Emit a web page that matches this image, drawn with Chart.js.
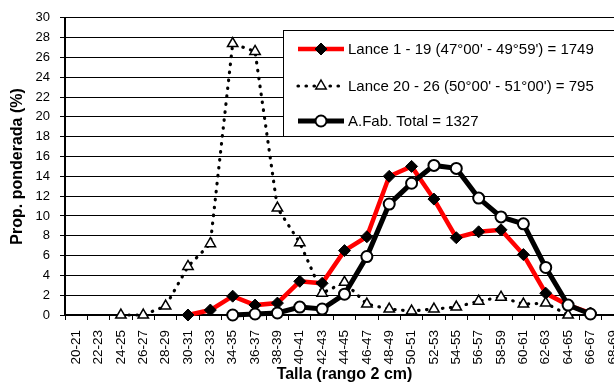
<!DOCTYPE html>
<html>
<head>
<meta charset="utf-8">
<script src="https://cdn.jsdelivr.net/npm/chart.js@4/dist/chart.umd.min.js"></script>
<style>
html,body{margin:0;padding:0;background:#fff;overflow:hidden;}
#clip{width:614px;height:384px;overflow:hidden;position:relative;}
#wrap{width:640px;height:384px;position:absolute;left:0;top:0;}
</style>
</head>
<body>
<div id="clip"><div id="wrap"><canvas id="c"></canvas></div></div>
<script>
const categories = ['20-21','22-23','24-25','26-27','28-29','30-31','32-33','34-35','36-37','38-39','40-41','42-43','44-45','46-47','48-49','50-51','52-53','54-55','56-57','58-59','60-61','62-63','64-65','66-67','68-69'];
const lance1_19 = [null,null,null,null,null,0,0.5,1.9,1.0,1.2,3.4,3.2,6.5,7.9,14.0,15.0,11.7,7.8,8.4,8.6,6.1,2.2,1.0,0.2,null];
const lance20_26 = [null,null,0,0,0.9,4.9,7.2,27.4,26.6,10.8,7.3,2.2,3.3,1.1,0.6,0.4,0.6,0.8,1.4,1.8,1.1,1.2,0,null,null];
const afabTotal = [null,null,null,null,null,null,null,0,0.1,0.2,0.8,0.6,2.1,5.9,11.2,13.3,15.1,14.8,11.8,9.9,9.2,4.8,1.0,0.1,null];
const seriesNames = ["Lance 1 - 19 (47°00' - 49°59') = 1749", "Lance 20 - 26 (50°00' - 51°00') = 795", "A.Fab. Total = 1327"];
const yTicks = [0,2,4,6,8,10,12,14,16,18,20,22,24,26,28,30];

const FONT = "'Liberation Sans', Arial, sans-serif";

function drawMarker(ctx, style, x, y, r, fill, stroke, bw){
  ctx.save();
  ctx.beginPath();
  if(style==='rectRot'){
    ctx.moveTo(x, y-r); ctx.lineTo(x+r, y); ctx.lineTo(x, y+r); ctx.lineTo(x-r, y); ctx.closePath();
  } else if(style==='triangle'){
    ctx.moveTo(x, y-r); ctx.lineTo(x+r*0.866, y+r*0.5); ctx.lineTo(x-r*0.866, y+r*0.5); ctx.closePath();
  } else {
    ctx.arc(x, y, r, 0, Math.PI*2);
  }
  ctx.fillStyle = fill; ctx.fill();
  ctx.lineWidth = bw; ctx.strokeStyle = stroke; ctx.stroke();
  ctx.restore();
}

const legendBox = {
  id: 'legendBox',
  afterDatasetsDraw(chart){
    const ctx = chart.ctx;
    const left = 283, top = 30, w = 360, h = 106;
    ctx.save();
    ctx.fillStyle = '#fff';
    ctx.fillRect(left, top, w, h);
    ctx.lineWidth = 1; ctx.strokeStyle = '#000';
    ctx.strokeRect(left+0.5, top+0.5, w, h);
    const rows = [49, 86, 121];
    [0,1,2].forEach((i, k) => {
      const ds = chart.data.datasets[i];
      const y = rows[k];
      ctx.save();
      ctx.beginPath();
      ctx.moveTo(298, y); ctx.lineTo(344, y);
      ctx.lineWidth = ds.borderWidth;
      ctx.strokeStyle = ds.borderColor;
      ctx.lineCap = ds.borderCapStyle || 'butt';
      if(ds.borderDash) ctx.setLineDash(ds.borderDash);
      ctx.stroke();
      ctx.restore();
      drawMarker(ctx, ds.pointStyle, 321, y, ds.pointRadius, ds.pointBackgroundColor, ds.pointBorderColor, ds.pointBorderWidth);
      ctx.fillStyle = '#000';
      ctx.font = '15px ' + FONT;
      ctx.textBaseline = 'middle';
      ctx.textAlign = 'left';
      ctx.fillText(ds.label, 348, y+1);
    });
    ctx.restore();
  }
};

new Chart(document.getElementById('c'), {
  type: 'line',
  data: {
    labels: categories,
    datasets: [
      {
        label: seriesNames[0], data: lance1_19,
        borderColor: '#ff0000', borderWidth: 4.5,
        pointStyle: 'rectRot', pointRadius: 6, pointBackgroundColor: '#000', pointBorderColor: '#000', pointBorderWidth: 1,
        tension: 0, clip: false, order: 2
      },
      {
        label: seriesNames[1], data: lance20_26,
        borderColor: '#000', borderWidth: 3.2, borderDash: [0.5, 7.5], borderCapStyle: 'round',
        pointStyle: 'triangle', pointRadius: 6, pointBackgroundColor: '#fff', pointBorderColor: '#000', pointBorderWidth: 1.5,
        tension: 0, clip: false, order: 1
      },
      {
        label: seriesNames[2], data: afabTotal,
        borderColor: '#000', borderWidth: 5,
        pointStyle: 'circle', pointRadius: 5.5, pointBackgroundColor: '#fff', pointBorderColor: '#000', pointBorderWidth: 2,
        tension: 0, clip: false, order: 0
      }
    ]
  },
  options: {
    responsive: true, maintainAspectRatio: false, animation: false,
    layout: { padding: { top: 15, right: 16, bottom: 0, left: 0 } },
    plugins: { legend: { display: false }, tooltip: { enabled: false } },
    scales: {
      x: {
        type: 'category', offset: true,
        grid: { offset: true, drawOnChartArea: false, drawTicks: true, tickLength: 5, color: '#000', lineWidth: 1 },
        border: { display: true, color: '#000', width: 2 },
        ticks: { color: '#000', font: { family: FONT, size: 13.5 }, minRotation: 90, maxRotation: 90, autoSkip: false, padding: 10 },
        title: { display: true, text: 'Talla (rango 2 cm)', color: '#000', font: { family: FONT, size: 16, weight: 'bold' }, padding: { top: 0, bottom: 0 } },
        afterFit(scale){ scale.height = 69; }
      },
      y: {
        min: 0, max: 30,
        afterBuildTicks(scale){ scale.ticks = yTicks.map(v => ({ value: v })); },
        grid: { color: '#000', lineWidth: 1, drawTicks: true, tickLength: 5 },
        border: { display: true, color: '#000', width: 2 },
        ticks: { color: '#000', font: { family: FONT, size: 13 }, padding: 10 },
        title: { display: true, text: 'Prop. ponderada (%)', color: '#000', font: { family: FONT, size: 16, weight: 'bold' }, padding: { top: 8, bottom: 0 } },
        afterFit(scale){ scale.width = 65; }
      }
    }
  },
  plugins: [legendBox]
});
</script>
</body>
</html>
